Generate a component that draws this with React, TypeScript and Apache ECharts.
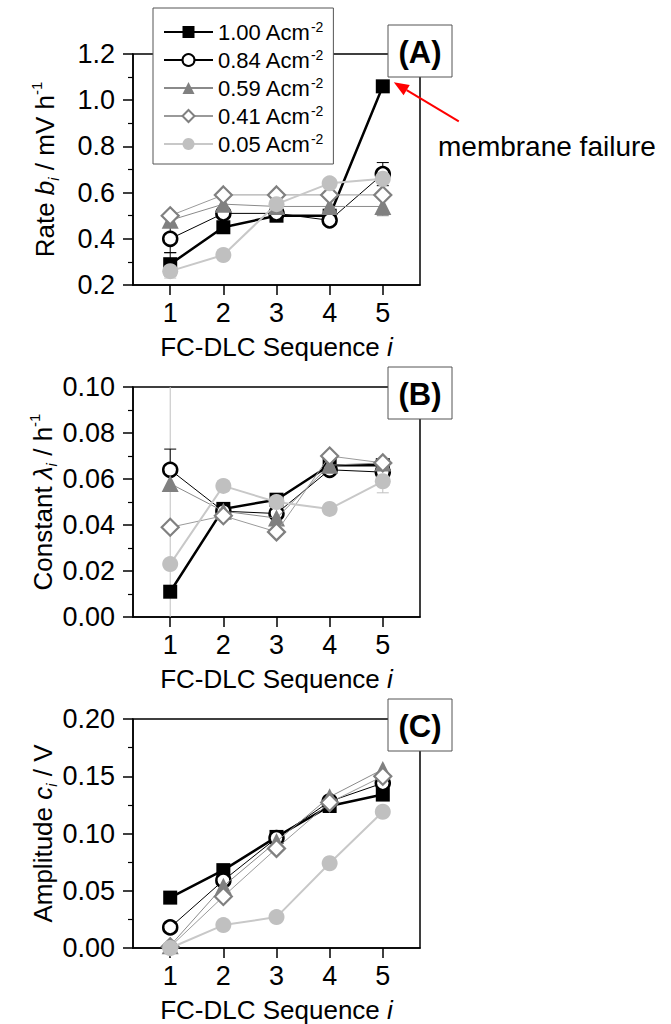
import React, { useEffect, useRef } from "react";
import * as echarts from "echarts";

// ---------- data ----------
const sequence = [1, 2, 3, 4, 5];
const densities = ["1.00", "0.84", "0.59", "0.41", "0.05"];

// (A) Rate b_i / mV h^-1
const rate100 = [0.29, 0.45, 0.5, 0.5, 1.06];
const rate084 = [0.4, 0.51, 0.51, 0.48, 0.68];
const rate059 = [0.48, 0.55, 0.54, 0.54, 0.54];
const rate041 = [0.5, 0.59, 0.59, 0.59, 0.59];
const rate005 = [0.26, 0.33, 0.55, 0.64, 0.66];

// (B) Constant lambda_i / h^-1
const const100 = [0.011, 0.047, 0.051, 0.066, 0.066];
const const084 = [0.064, 0.046, 0.045, 0.064, 0.063];
const const059 = [0.058, 0.046, 0.043, 0.066, 0.067];
const const041 = [0.039, 0.044, 0.037, 0.07, 0.067];
const const005 = [0.023, 0.057, 0.05, 0.047, 0.059];

// (C) Amplitude c_i / V
const amp100 = [0.044, 0.068, 0.097, 0.124, 0.134];
const amp084 = [0.018, 0.059, 0.096, 0.128, 0.144];
const amp059 = [0.002, 0.054, 0.093, 0.132, 0.156];
const amp041 = [0.001, 0.045, 0.087, 0.127, 0.15];
const amp005 = [0.0, 0.02, 0.027, 0.074, 0.119];

// error bars: [series index, sequence, low, high]
const errRate = [
  [0, 1, 0.24, 0.34],
  [1, 1, 0.34, 0.46],
  [1, 5, 0.63, 0.73],
  [2, 5, 0.5, 0.58],
  [4, 1, 0.23, 0.29],
];
const errConst = [
  [4, 1, -0.02, 0.12],
  [1, 1, 0.055, 0.073],
  [4, 5, 0.054, 0.064],
];
const errAmp: number[][] = [];

// y axis ticks
const rateTicks = [0.2, 1.2, 0.2];
const constTicks = [0, 0.1, 0.02];
const ampTicks = [0, 0.2, 0.05];

const panelLabels = ["(A)", "(B)", "(C)"];
const failureNote = "membrane failure";

// ---------- styles ----------
const FONT = "Liberation Sans, Arial, sans-serif";
const seriesStyles = [
  { symbol: "rect", size: 14, fill: "#000", stroke: "#000", bw: 0, line: "#000", lw: 2.5 },
  { symbol: "circle", size: 14, fill: "#fff", stroke: "#000", bw: 2.5, line: "#000", lw: 1 },
  { symbol: "triangle", size: 17, fill: "#808080", stroke: "#808080", bw: 0, line: "#8a8a8a", lw: 1 },
  { symbol: "diamond", size: 17, fill: "#fff", stroke: "#808080", bw: 2.2, line: "#9a9a9a", lw: 1 },
  { symbol: "circle", size: 16, fill: "#c0c0c0", stroke: "#c0c0c0", bw: 0, line: "#c8c8c8", lw: 2 },
];

const grids = [
  { left: 133, right: 251, top: 54, height: 231 },
  { left: 133, right: 251, top: 387, height: 230 },
  { left: 133, right: 251, top: 719, height: 230 },
];

const richName = {
  it: { fontFamily: FONT, fontSize: 26, fontStyle: "italic", color: "#000", lineHeight: 32 },
  sub: { fontFamily: FONT, fontSize: 15, fontStyle: "italic", color: "#000", verticalAlign: "bottom", lineHeight: 15 },
  sup: { fontFamily: FONT, fontSize: 15, color: "#000", verticalAlign: "top", lineHeight: 15 },
  n: { fontFamily: FONT, fontSize: 26, color: "#000", lineHeight: 32 },
};

export default function App() {
  const ref = useRef<HTMLDivElement>(null);

  useEffect(() => {
    if (!ref.current) return;
    const chart = echarts.init(ref.current, undefined, { renderer: "svg" });

    const panelData = [
      [rate100, rate084, rate059, rate041, rate005],
      [const100, const084, const059, const041, const005],
      [amp100, amp084, amp059, amp041, amp005],
    ];
    const panelErr = [errRate, errConst, errAmp];
    const panelTicks = [rateTicks, constTicks, ampTicks];
    const decimals = [1, 2, 2];
    const yNames = [
      "{n|Rate }{it|b}{sub|i}{n| / mV h}{sup|-1}",
      "{n|Constant }{it|λ}{sub|i}{n| / h}{sup|-1}",
      "{n|Amplitude }{it|c}{sub|i}{n| / V}",
    ];

    const xAxis: any[] = [];
    const yAxis: any[] = [];
    const series: any[] = [];

    panelData.forEach((arrs, p) => {
      xAxis.push({
        type: "value",
        gridIndex: p,
        min: 0.3,
        max: 5.7,
        name: "{n|FC-DLC Sequence }{it|i}",
        nameLocation: "middle",
        nameGap: 46,
        nameTextStyle: { rich: richName },
        axisLine: { show: true, onZero: false, lineStyle: { color: "#000", width: 1.5 } },
        axisTick: { show: true, inside: false, length: 10, customValues: sequence, lineStyle: { color: "#000", width: 1.5 } },
        axisLabel: { customValues: sequence, fontSize: 27, fontFamily: FONT, color: "#000", margin: 14 },
        splitLine: { show: false },
      });
      const [mn, mx, iv] = panelTicks[p];
      yAxis.push({
        type: "value",
        gridIndex: p,
        min: mn,
        max: mx,
        interval: iv,
        name: yNames[p],
        nameLocation: "middle",
        nameGap: 72,
        nameRotate: 90,
        nameTextStyle: { rich: richName },
        axisLine: { show: true, lineStyle: { color: "#000", width: 1.5 } },
        axisTick: { show: true, inside: false, length: 10, lineStyle: { color: "#000", width: 1.5 } },
        minorTick: { show: true, splitNumber: 2, length: 5, lineStyle: { color: "#000", width: 1.2 } },
        axisLabel: {
          fontSize: 27,
          fontFamily: FONT,
          color: "#000",
          margin: 18,
          formatter: (v: number) => v.toFixed(decimals[p]),
        },
        splitLine: { show: false },
      });

      const errs = panelErr[p];
      if (errs.length) {
        series.push({
          type: "custom",
          xAxisIndex: p,
          yAxisIndex: p,
          clip: true,
          z: 1,
          silent: true,
          data: errs,
          encode: { x: 1, y: [2, 3] },
          renderItem: (params: any, api: any) => {
            const si = api.value(0);
            const x = api.value(1);
            const top = api.coord([x, api.value(3)]);
            const bot = api.coord([x, api.value(2)]);
            const c = 6;
            const st = { stroke: seriesStyles[si].stroke, lineWidth: 1 };
            return {
              type: "group",
              children: [
                { type: "line", shape: { x1: top[0], y1: top[1], x2: bot[0], y2: bot[1] }, style: st },
                { type: "line", shape: { x1: top[0] - c, y1: top[1], x2: top[0] + c, y2: top[1] }, style: st },
                { type: "line", shape: { x1: bot[0] - c, y1: bot[1], x2: bot[0] + c, y2: bot[1] }, style: st },
              ],
            };
          },
        });
      }

      arrs.forEach((vals, si) => {
        const s = seriesStyles[si];
        series.push({
          type: "line",
          name: densities[si],
          xAxisIndex: p,
          yAxisIndex: p,
          data: sequence.map((x, i) => [x, vals[i]]),
          symbol: s.symbol,
          symbolSize: s.size,
          showSymbol: true,
          z: 2 + si * 0.1,
          lineStyle: { color: s.line, width: s.lw },
          itemStyle: { color: s.fill, borderColor: s.stroke, borderWidth: s.bw, opacity: 1 },
          emphasis: { disabled: true },
        });
      });
    });

    const labelGraphics = panelLabels.map((t, p) => ({
      type: "group",
      z: 100,
      x: 388,
      y: grids[p].top - (p === 0 ? 29 : 20),
      children: [
        { type: "rect", shape: { x: 0, y: 0, width: 64, height: 52 }, style: { fill: "#fff", stroke: "#555", lineWidth: 1 } },
        {
          type: "text",
          x: 32,
          y: 27,
          style: { text: t, fontSize: 31, fontWeight: "bold", fontFamily: FONT, fill: "#000", align: "center", verticalAlign: "middle" },
        },
      ],
    }));

    chart.setOption({
      animation: false,
      backgroundColor: "#fff",
      grid: grids.map((g) => ({ ...g, show: true, borderColor: "#000", borderWidth: 1.5, backgroundColor: "transparent" })),
      xAxis,
      yAxis,
      legend: {
        data: densities,
        orient: "vertical",
        left: 153,
        top: 8,
        itemWidth: 49,
        itemHeight: 15,
        itemGap: 5,
        padding: [12, 10, 9, 10],
        backgroundColor: "#fff",
        borderColor: "#555",
        borderWidth: 1,
        selectedMode: false,
        z: 50,
        formatter: (name: string) => `{t|${name} Acm}{s|-2}`,
        textStyle: {
          rich: {
            t: { fontFamily: FONT, fontSize: 22, color: "#000", lineHeight: 24 },
            s: { fontFamily: FONT, fontSize: 14, color: "#000", verticalAlign: "top", lineHeight: 14 },
          },
        },
      },
      series,
      graphic: labelGraphics,
    });

    // annotation arrow pointing to the failure point
    const pt = chart.convertToPixel({ gridIndex: 0 } as any, [sequence[4], rate100[4]]) as number[];
    const tip = [pt[0] + 11, pt[1] - 4];
    const tail = [pt[0] + 76, pt[1] + 35];
    const dx = tip[0] - tail[0];
    const dy = tip[1] - tail[1];
    const len = Math.hypot(dx, dy);
    const ux = dx / len;
    const uy = dy / len;
    const hl = 15;
    const hw = 6;
    const base = [tip[0] - ux * hl, tip[1] - uy * hl];
    chart.setOption({
      graphic: [
        ...labelGraphics,
        {
          type: "line",
          z: 100,
          shape: { x1: tail[0], y1: tail[1], x2: base[0], y2: base[1] },
          style: { stroke: "#ff0000", lineWidth: 2 },
        },
        {
          type: "polygon",
          z: 100,
          shape: {
            points: [
              tip,
              [base[0] - uy * hw, base[1] + ux * hw],
              [base[0] + uy * hw, base[1] - ux * hw],
            ],
          },
          style: { fill: "#ff0000" },
        },
        {
          type: "text",
          z: 100,
          x: 438,
          y: 146,
          style: { text: failureNote, fontSize: 28, fontFamily: FONT, fill: "#000", verticalAlign: "middle" },
        },
      ],
    });

    return () => chart.dispose();
  }, []);

  return (
    <div
      ref={ref}
      style={{ position: "absolute", left: 0, top: 0, width: 671, height: 1024, background: "#fff" }}
    />
  );
}
